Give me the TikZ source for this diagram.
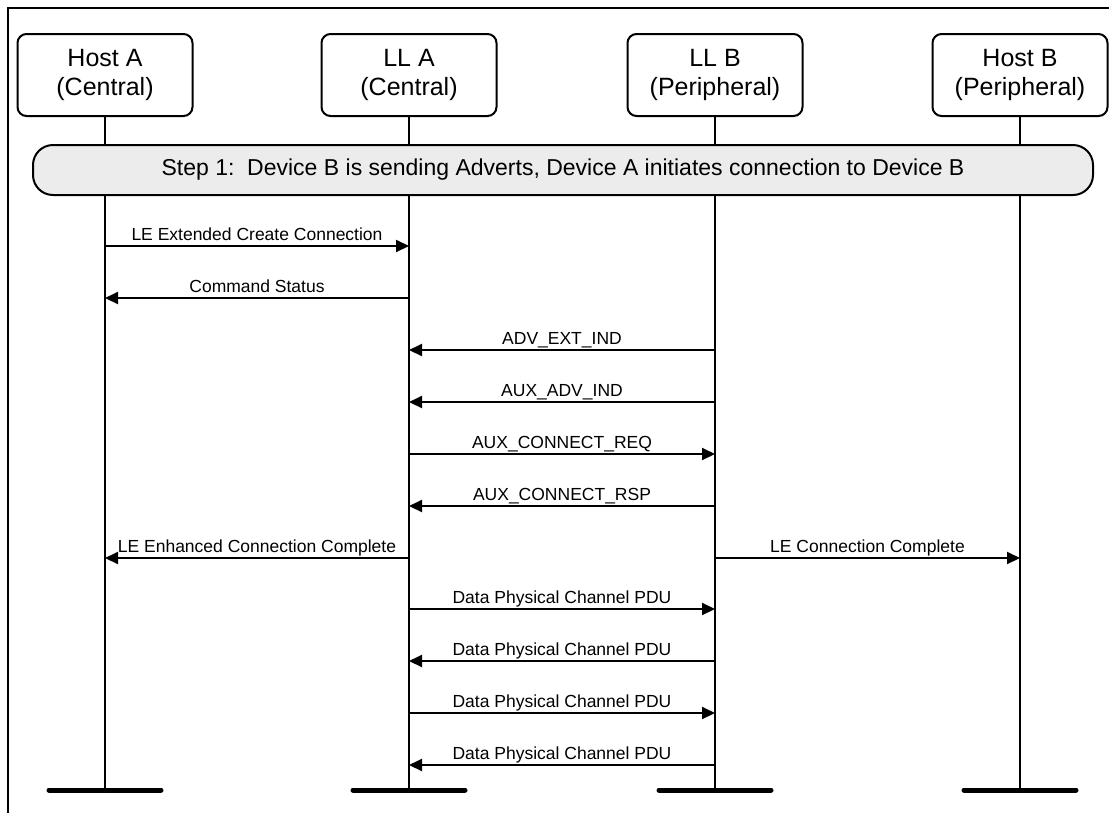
\documentclass[tikz,border=0pt]{standalone}
\usepackage{fontspec}
\setmainfont{Liberation Sans}
\usetikzlibrary{arrows.meta}
\definecolor{stepgray}{RGB}{236,236,236}
\begin{document}
\begin{tikzpicture}[x=1pt,y=-1pt,
  entity/.style={draw, line width=2pt, rounded corners=9pt, minimum width=175pt, minimum height=82pt, align=center, fill=white, font=\fontsize{25}{29}\selectfont},
  stepbar/.style={draw, line width=2pt, rounded corners=20pt, fill=stepgray, minimum width=1060pt, minimum height=50pt, font=\fontsize{23}{27}\selectfont},
  lifeline/.style={line width=2pt},
  msg/.style={line width=2pt, -{Triangle[length=13pt,width=12pt]}},
  lbl/.style={anchor=base, yshift=6pt, inner sep=0pt, font=\fontsize{17.5}{20}\selectfont},
  endbar/.style={line width=5pt, line cap=round}]
\useasboundingbox (0,0) rectangle (1109,812);
\clip (0,0) rectangle (1109,812);
\draw[line width=2pt] (8,8) rectangle (1130,830);

\node[entity] (hA) at (105,75) {Host A\\(Central)};
\node[entity] (lA) at (409,75) {LL A\\(Central)};
\node[entity] (lB) at (715,75) {LL B\\(Peripheral)};
\node[entity] (hB) at (1020,75) {Host B\\(Peripheral)};

\foreach \l in {hA,lA,lB,hB} {
  \coordinate (\l-end) at (\l |- 0,790);
  \foreach \n/\y in {1/246,2/298,3/350,4/402,5/454,6/506,7/558,8/609,9/661,10/713,11/765}
    \coordinate (\l-\n) at (\l |- 0,\y);
  \draw[lifeline] (\l) -- (\l-end);
  \draw[endbar] ([xshift=-56pt]\l-end) -- ([xshift=56pt]\l-end);
}

\node[stepbar] (step) at (563,170) {Step 1:\ \ Device B is sending Adverts, Device A initiates connection to Device B};

\draw[msg] (hA-1) -- (lA-1) node[midway, lbl] {LE Extended Create Connection};
\draw[msg] (lA-2) -- (hA-2) node[midway, lbl] {Command Status};
\draw[msg] (lB-3) -- (lA-3) node[midway, lbl] {ADV\_EXT\_IND};
\draw[msg] (lB-4) -- (lA-4) node[midway, lbl] {AUX\_ADV\_IND};
\draw[msg] (lA-5) -- (lB-5) node[midway, lbl] {AUX\_CONNECT\_REQ};
\draw[msg] (lB-6) -- (lA-6) node[midway, lbl] {AUX\_CONNECT\_RSP};
\draw[msg] (lA-7) -- (hA-7) node[midway, lbl] {LE Enhanced Connection Complete};
\draw[msg] (lB-7) -- (hB-7) node[midway, lbl] {LE Connection Complete};
\draw[msg] (lA-8) -- (lB-8) node[midway, lbl] {Data Physical Channel PDU};
\draw[msg] (lB-9) -- (lA-9) node[midway, lbl] {Data Physical Channel PDU};
\draw[msg] (lA-10) -- (lB-10) node[midway, lbl] {Data Physical Channel PDU};
\draw[msg] (lB-11) -- (lA-11) node[midway, lbl] {Data Physical Channel PDU};
\end{tikzpicture}
\end{document}
